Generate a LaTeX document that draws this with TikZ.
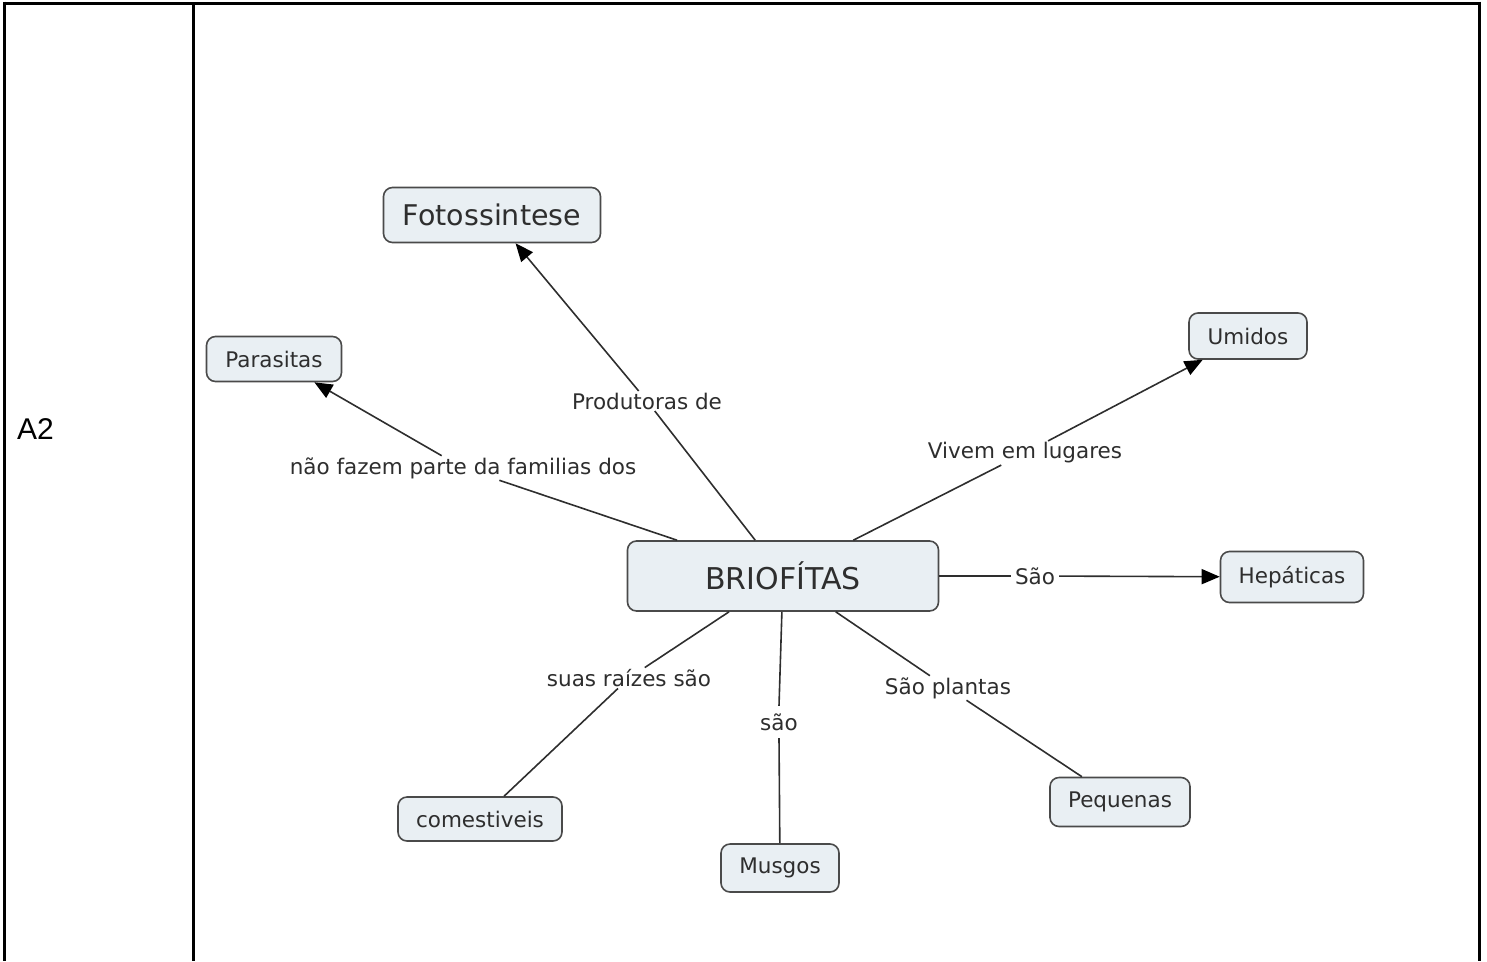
\documentclass[tikz,border=0pt]{standalone}
\usepackage{fontspec}
\setmainfont{DejaVu Sans}
\newfontfamily\arialfont{Liberation Sans}
\usetikzlibrary{arrows.meta}
\definecolor{boxfill}{HTML}{E9EFF3}
\definecolor{boxdraw}{HTML}{4A4A4A}
\definecolor{ink}{HTML}{2E2E2E}
\begin{document}
\begin{tikzpicture}[x=1pt,y=-1pt,
  concept/.style={draw=boxdraw, fill=boxfill, rounded corners=9pt, line width=1.6pt,
    text=ink, inner sep=0pt, align=center, font=\fontsize{21.5}{25}\selectfont},
  linklabel/.style={fill=white, text=ink, inner xsep=4pt, inner ysep=1.5pt, font=\fontsize{21.5}{25}\selectfont},
  link/.style={draw=ink, line width=1.6pt},
  arrowlink/.style={link, -{Triangle[length=18pt,width=15pt,color=black]}},
  rule/.style={line width=3pt, draw=black}]
\useasboundingbox (0,0) rectangle (1487,961);

% table frame
\draw[rule] (4,3) -- (1479,3);
\draw[rule] (4,1.5) -- (4,961);
\draw[rule] (193,3) -- (193,961);
\draw[rule] (1479,1.5) -- (1479,961);
\node[anchor=west, inner sep=0pt, font=\arialfont\fontsize{30}{34}\selectfont] (rowlabel) at (17,429) {A2};

% concepts
\node[concept, minimum width=311pt, minimum height=70pt, font=\fontsize{30}{34}\selectfont] (brio) at (783,576) {BRIOFÍTAS};
\node[concept, minimum width=217pt, minimum height=55pt, font=\fontsize{28.5}{32}\selectfont] (foto) at (492,215) {Fotossintese};
\node[concept, minimum width=135pt, minimum height=45pt] (para) at (274,359) {Parasitas};
\node[concept, minimum width=118pt, minimum height=46pt] (umid) at (1248,336) {Umidos};
\node[concept, minimum width=143pt, minimum height=51pt] (hepa) at (1292,577) {Hepáticas};
\node[concept, minimum width=164pt, minimum height=44pt] (come) at (480,819) {comestiveis};
\node[concept, minimum width=118pt, minimum height=48pt] (musg) at (780,868) {Musgos};
\node[concept, minimum width=140pt, minimum height=49pt] (pequ) at (1120,802) {Pequenas};

% linking phrases
\node[linklabel] (lprod) at (647,401) {Produtoras de};
\node[linklabel] (lfam) at (463,468) {não fazem parte da familias dos};
\node[linklabel] (lviv) at (1025,453) {Vivem em lugares};
\node[linklabel] (lsao) at (1035,576) {São};
\node[linklabel] (lraiz) at (629,678) {suas raízes são};
\node[linklabel, fill=none] (lsao2) at (779,722) {são};
\node[linklabel] (lplan) at (948,688) {São plantas};

% connectors
\draw[link] (brio) -- (lprod);
\draw[arrowlink] (lprod) -- (foto);
\draw[link] (brio) -- (lfam);
\draw[arrowlink] (lfam) -- (para);
\draw[link] (brio) -- (lviv);
\draw[arrowlink] (lviv) -- (umid);
\draw[link] (brio) -- (lsao);
\draw[arrowlink] (lsao) -- (hepa);
\draw[link] (brio) -- (lraiz);
\draw[link] (lraiz) -- (come);
\draw[link] (brio) -- ([yshift=6pt]lsao2.north);
\draw[link] ([yshift=-6pt]lsao2.south) -- (musg);
\draw[link] (brio) -- (lplan);
\draw[link] (lplan) -- (pequ);
\end{tikzpicture}
\end{document}
